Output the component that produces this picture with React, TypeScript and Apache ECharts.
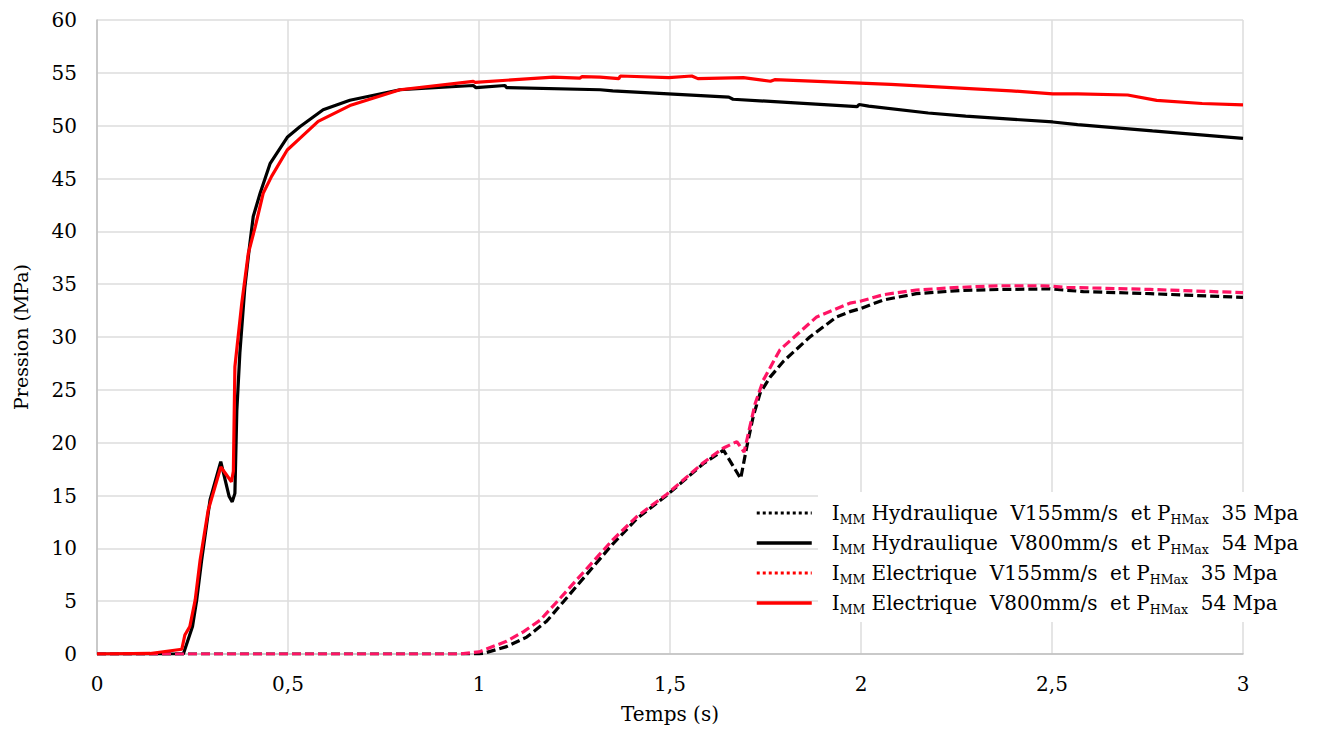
import React, { useEffect, useRef } from "react";
import * as echarts from "echarts";

// Time (s) and pressure (MPa)
const hydro155T = [0, 0.5, 1.0, 1.011, 1.072, 1.125, 1.177, 1.221, 1.3, 1.35, 1.413, 1.491, 1.587, 1.64, 1.685, 1.701, 1.718, 1.736, 1.762, 1.797, 1.866, 1.936, 1.971, 2.0, 2.058, 2.145, 2.259, 2.364, 2.495, 2.582, 2.757, 3.0];
const hydro155V = [0, 0, 0, 0.05, 0.7, 1.6, 3.1, 4.95, 8.3, 10.4, 12.8, 15.0, 18.0, 19.3, 16.6, 19.6, 22.5, 24.7, 26.2, 27.7, 30.0, 31.9, 32.4, 32.7, 33.5, 34.1, 34.4, 34.5, 34.55, 34.3, 34.1, 33.75];

const hydro800T = [0, 0.226, 0.25, 0.261, 0.274, 0.296, 0.324, 0.346, 0.354, 0.361, 0.366, 0.374, 0.387, 0.399, 0.409, 0.427, 0.453, 0.498, 0.531, 0.592, 0.662, 0.793, 0.985, 0.992, 1.068, 1.072, 1.317, 1.35, 1.654, 1.665, 1.99, 1.995, 2.02, 2.176, 2.274, 2.502, 2.567, 2.763, 3.0];
const hydro800V = [0, 0, 2.6, 5.1, 8.9, 14.6, 18.2, 14.9, 14.4, 15.2, 23.0, 28.5, 34.7, 38.5, 41.4, 43.6, 46.4, 48.9, 49.9, 51.5, 52.4, 53.4, 53.8, 53.6, 53.8, 53.6, 53.4, 53.3, 52.7, 52.5, 51.8, 52.0, 51.85, 51.2, 50.9, 50.35, 50.1, 49.5, 48.8];

const elec155T = [0, 0.5, 0.95, 1.0, 1.072, 1.116, 1.16, 1.208, 1.3, 1.35, 1.413, 1.491, 1.587, 1.64, 1.675, 1.694, 1.709, 1.723, 1.744, 1.788, 1.884, 1.971, 2.0, 2.058, 2.145, 2.259, 2.364, 2.477, 2.539, 2.757, 3.0];
const elec155V = [0, 0, 0, 0.2, 1.2, 2.1, 3.2, 5.1, 8.8, 10.8, 13.0, 15.1, 18.1, 19.5, 20.1, 19.1, 21.5, 23.7, 25.9, 28.8, 31.9, 33.2, 33.4, 34.0, 34.45, 34.7, 34.85, 34.85, 34.7, 34.5, 34.2];

const elec800T = [0, 0.139, 0.222, 0.23, 0.243, 0.257, 0.27, 0.291, 0.3, 0.324, 0.352, 0.357, 0.361, 0.379, 0.396, 0.414, 0.435, 0.457, 0.498, 0.531, 0.579, 0.662, 0.793, 0.985, 0.99, 1.194, 1.264, 1.27, 1.317, 1.366, 1.37, 1.497, 1.557, 1.573, 1.692, 1.763, 1.774, 2.078, 2.393, 2.502, 2.567, 2.698, 2.774, 2.893, 3.0];
const elec800V = [0, 0.05, 0.45, 1.8, 2.6, 5.1, 8.9, 13.6, 14.7, 17.7, 16.3, 17.3, 27.2, 33.2, 37.9, 40.4, 43.6, 45.2, 47.7, 48.8, 50.4, 51.9, 53.4, 54.2, 54.1, 54.6, 54.5, 54.65, 54.6, 54.45, 54.7, 54.55, 54.7, 54.45, 54.55, 54.2, 54.35, 53.9, 53.3, 53.0, 53.0, 52.9, 52.4, 52.1, 51.97];

const seriesNames = [
  "IMM Hydraulique V155mm/s et PHMax 35 Mpa",
  "IMM Hydraulique V800mm/s et PHMax 54 Mpa",
  "IMM Electrique V155mm/s et PHMax 35 Mpa",
  "IMM Electrique V800mm/s et PHMax 54 Mpa",
];
const legendRich = [
  "{f|I}{s|MM}{m| Hydraulique  V155mm/s  et P}{s|HMax}{m|  35 Mpa}",
  "{f|I}{s|MM}{m| Hydraulique  V800mm/s  et P}{s|HMax}{m|  54 Mpa}",
  "{f|I}{s|MM}{m| Electrique  V155mm/s  et P}{s|HMax}{m|  35 Mpa}",
  "{f|I}{s|MM}{m| Electrique  V800mm/s  et P}{s|HMax}{m|  54 Mpa}",
];

const xTitle = "Temps (s)";
const yTitle = "Pression (MPa)";

const zip = (t: number[], v: number[]) => t.map((x, i) => [x, v[i]]);

const FONT = "DejaVu Serif";

export default function App() {
  const ref = useRef<HTMLDivElement>(null);
  useEffect(() => {
    if (!ref.current) return;
    const chart = echarts.init(ref.current, undefined, { renderer: "svg" });
    const dash = [9, 4];
    chart.setOption({
      animation: false,
      backgroundColor: "#ffffff",
      textStyle: { fontFamily: FONT },
      grid: { left: 97, right: 82, top: 20, bottom: 75, containLabel: false },
      xAxis: {
        type: "value",
        min: 0,
        max: 3,
        interval: 0.5,
        name: xTitle,
        nameLocation: "middle",
        nameGap: 50,
        nameTextStyle: { fontFamily: FONT, fontSize: 20, color: "#000" },
        axisLine: { show: true, lineStyle: { color: "#bfbfbf", width: 1.5 } },
        axisTick: { show: false },
        axisLabel: {
          fontFamily: FONT,
          fontSize: 20,
          color: "#000",
          margin: 20,
          formatter: (v: number) => String(v).replace(".", ","),
        },
        splitLine: { show: true, lineStyle: { color: "#dcdcdc", width: 1.5 } },
      },
      yAxis: {
        type: "value",
        min: 0,
        max: 60,
        interval: 5,
        name: yTitle,
        nameLocation: "middle",
        nameGap: 67,
        nameTextStyle: { fontFamily: FONT, fontSize: 19, color: "#000" },
        axisLine: { show: true, lineStyle: { color: "#bfbfbf", width: 1.5 } },
        axisTick: { show: false },
        axisLabel: { fontFamily: FONT, fontSize: 20, color: "#000", margin: 20 },
        splitLine: { show: true, lineStyle: { color: "#dcdcdc", width: 1.5 } },
      },
      graphic: [
        {
          type: "rect",
          z: 1,
          silent: true,
          shape: { x: 818, y: 492, width: 430, height: 130 },
          style: { fill: "#ffffff" },
        },
      ],
      legend: {
        orient: "vertical",
        left: 755,
        top: 503,
        itemWidth: 55,
        itemHeight: 14,
        itemGap: 7,
        padding: 0,
        itemStyle: { opacity: 0 },
        data: [
          { name: seriesNames[0], lineStyle: { type: [3, 3], color: "#000", width: 3 } },
          { name: seriesNames[1], lineStyle: { color: "#000", width: 3.5 } },
          { name: seriesNames[2], lineStyle: { type: [3, 3], color: "#ff0000", width: 3 } },
          { name: seriesNames[3], lineStyle: { color: "#ff0000", width: 3.5 } },
        ],
        formatter: (name: string) => legendRich[seriesNames.indexOf(name)],
        textStyle: {
          fontFamily: FONT,
          color: "#000",
          rich: {
            f: { fontFamily: FONT, fontSize: 20, lineHeight: 26, color: "#000", padding: [0, 0, 0, 15] },
            m: { fontFamily: FONT, fontSize: 20, lineHeight: 26, color: "#000" },
            s: { fontFamily: FONT, fontSize: 12.5, lineHeight: 13, verticalAlign: "bottom", color: "#000" },
          },
        },
      },
      series: [
        {
          name: seriesNames[0],
          type: "line",
          symbol: "none",
          data: zip(hydro155T, hydro155V),
          lineStyle: { color: "#000000", width: 3.2, type: dash },
          itemStyle: { color: "#000000" },
        },
        {
          name: seriesNames[1],
          type: "line",
          symbol: "none",
          data: zip(hydro800T, hydro800V),
          lineStyle: { color: "#000000", width: 3.2 },
          itemStyle: { color: "#000000" },
        },
        {
          name: seriesNames[2],
          type: "line",
          symbol: "none",
          data: zip(elec155T, elec155V),
          lineStyle: { color: "#ff1464", width: 3.2, type: dash },
          itemStyle: { color: "#ff1464" },
        },
        {
          name: seriesNames[3],
          type: "line",
          symbol: "none",
          data: zip(elec800T, elec800V),
          lineStyle: { color: "#ff0000", width: 3.2 },
          itemStyle: { color: "#ff0000" },
        },
      ],
    });
    return () => chart.dispose();
  }, []);
  return (
    <div
      ref={ref}
      style={{ position: "fixed", left: 0, top: 0, width: 1325, height: 729 }}
    />
  );
}
